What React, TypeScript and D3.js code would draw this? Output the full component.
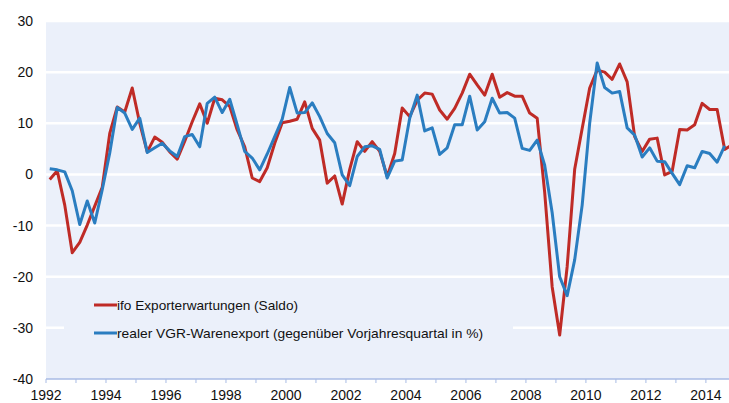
import React from "react";
import * as d3 from "d3";

// quarterly values, 1992 Q1 onwards
const ifoExport = [
  -1, 0.7, -6, -15.3,
  -13.3, -9.9, -6.2, -2.5,
  8, 13.2, 12.2, 16.9,
  10, 4.4, 7.3, 6.3,
  4.4, 3, 6.5, 10.3,
  13.8, 10, 14.9, 14.6,
  13.3, 8.7, 5.4, -0.7,
  -1.4, 1.3, 6.1, 10.1,
  10.4, 10.8, 14.2, 9,
  6.7, -1.7, -0.3, -5.8,
  1, 6.4, 4.5, 6.4,
  4.5, -0.4, 4.1, 13,
  11.3, 14.5, 15.9, 15.7,
  12.6, 10.8, 12.9, 15.9,
  19.6, 17.5, 15.5, 19.6,
  15.1, 16, 15.3, 15.3,
  12, 11, -3.5, -22,
  -31.4, -18, 1, 9,
  16.9, 20.4, 20, 18.6,
  21.6, 18.1, 7.4, 4.5,
  6.9, 7.1, -0.1, 0.6,
  8.8, 8.7, 9.7, 13.9,
  12.7, 12.7, 4.9, 5.8,
];

const vgrExport = [
  1.1, 0.9, 0.5, -3.2,
  -9.8, -5.2, -9.5, -3,
  4.2, 13.1, 12, 8.8,
  11, 4.3, 5.2, 6.1,
  4.6, 3.5, 7.4, 7.8,
  5.4, 13.9, 15.1, 12.1,
  14.7, 9.7, 4.5, 3.2,
  0.9, 4, 7.4, 10.8,
  17, 12, 12.1, 14,
  11.3, 8, 6.2, -0.1,
  -2.2, 3.5, 5.4, 5.6,
  4.9, -0.7, 2.6, 2.8,
  11, 15.5, 8.5, 9.1,
  3.9, 5.2, 9.7, 9.7,
  15.3, 8.7, 10.3, 14.9,
  12, 12.1, 11, 5.1,
  4.7, 6.7, 1.8, -7.5,
  -20, -23.7, -16.7, -6,
  10, 21.8, 17, 15.9,
  16.2, 9.1, 7.7, 3.4,
  5.2, 2.6, 2.5, 0.2,
  -2, 1.7, 1.3, 4.5,
  4.1, 2.4, 5.6,
];

const yTicks = [-40, -30, -20, -10, 0, 10, 20, 30];
const yearLabels = [1992, 1994, 1996, 1998, 2000, 2002, 2004, 2006, 2008, 2010, 2012, 2014];
const seriesNames = [
  "ifo Exporterwartungen (Saldo)",
  "realer VGR-Warenexport (gegenüber Vorjahresquartal in %)",
];

const width = 729;
const height = 403;
const left = 46;
const right = 729;
const top = 21;
const bottom = 379;

const red = "#bf2b26";
const blue = "#2a7dc0";
const bg = "#ebf0fa";
const axisColor = "#a8bbe4";

export default function App() {
  const x = d3.scaleLinear().domain([1992, 2014.77]).range([left, right]);
  const y = d3.scaleLinear().domain([-40, 30]).range([bottom, top]);

  // quarter k sits in the middle of its quarter
  const qx = (k: number) => x(1992 + (k + 0.5) / 4);
  const line = d3
    .line<number>()
    .x((d, i) => qx(i))
    .y((d) => y(d));

  const years = d3.range(1992, 2015);
  const font = "Liberation Sans, Arial, sans-serif";
  const legendWidths = [181, 366]; // legend text is a bit wider than plain Arial

  return (
    <svg
      width={width}
      height={height}
      style={{ position: "absolute", left: 0, top: 0, background: "#fff" }}
    >
      <defs>
        <clipPath id="plot">
          <rect x={left} y={top} width={right - left} height={bottom - top} />
        </clipPath>
      </defs>
      <rect x={left} y={top} width={right - left} height={bottom - top} fill={bg} />

      {/* gridlines */}
      {yTicks
        .filter((t) => t > -40)
        .map((t) => (
          <line key={t} x1={left} x2={right} y1={y(t)} y2={y(t)} stroke="#fff" strokeWidth={2.5} />
        ))}

      {/* legend box covers gridline */}
      <rect x={64} y={286} width={449} height={62} fill={bg} />

      {/* x axis */}
      <line x1={left} x2={right} y1={bottom} y2={bottom} stroke={axisColor} strokeWidth={1.5} />
      {years.map((yr) => (
        <line key={yr} x1={x(yr)} x2={x(yr)} y1={bottom} y2={bottom + 4} stroke={axisColor} strokeWidth={1} />
      ))}
      {yearLabels.map((yr) => (
        <text key={yr} x={x(yr)} y={400} textAnchor="middle" fontSize={14} fontFamily={font} fill="#111">
          {yr}
        </text>
      ))}

      {/* y labels */}
      {yTicks.map((t) => (
        <text key={t} x={33} y={y(t) + 5} textAnchor="end" fontSize={14} fontFamily={font} fill="#111">
          {t}
        </text>
      ))}

      <g clipPath="url(#plot)">
        <path d={line(ifoExport) || ""} fill="none" stroke={red} strokeWidth={3} strokeLinejoin="round" />
        <path d={line(vgrExport) || ""} fill="none" stroke={blue} strokeWidth={3} strokeLinejoin="round" />
      </g>

      {/* legend */}
      {seriesNames.map((name, i) => {
        const ly = 305 + i * 28;
        return (
          <g key={name}>
            <line x1={94} x2={117} y1={ly} y2={ly} stroke={i === 0 ? red : blue} strokeWidth={3} />
            <text
              x={117}
              y={ly + 5}
              fontSize={13.5}
              fontFamily={font}
              fill="#111"
              textLength={legendWidths[i]}
              lengthAdjust="spacingAndGlyphs"
            >
              {name}
            </text>
          </g>
        );
      })}
    </svg>
  );
}
